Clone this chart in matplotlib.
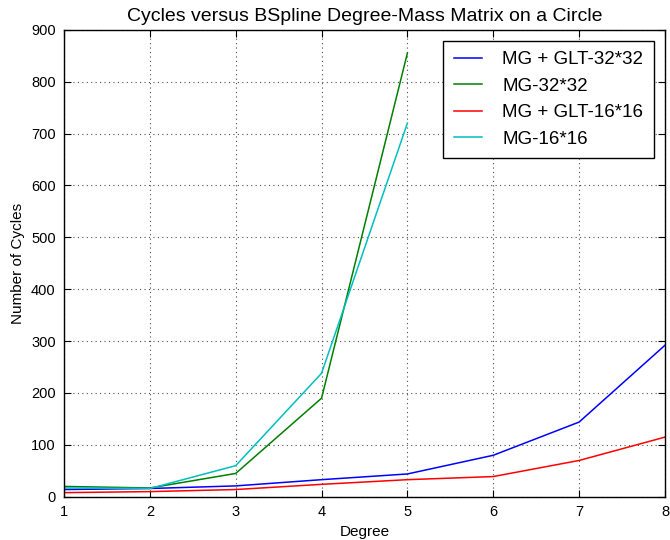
import numpy as np
import matplotlib.pyplot as plt

plt.rcParams['font.family'] = ['Liberation Sans', 'DejaVu Sans']

# Cycle counts per B-spline degree
degree = [1, 2, 3, 4, 5, 6, 7, 8]
degree_short = [1, 2, 3, 4, 5]
mg_glt_32 = [14, 16, 21, 33, 44, 80, 144, 292]
mg_32 = [20, 17, 45, 190, 855]
mg_glt_16 = [8, 10, 14, 24, 33, 39, 70, 115]
mg_16 = [17, 16, 60, 238, 720]

fig = plt.figure(figsize=(6.7, 5.4), dpi=100)
ax = fig.add_axes([0.0955, 0.08, 0.897, 0.865])

ax.plot(degree, mg_glt_32, color='b', lw=1.1, label='MG + GLT-32*32')
ax.plot(degree_short, mg_32, color='g', lw=1.1, label='MG-32*32')
ax.plot(degree, mg_glt_16, color='r', lw=1.1, label='MG + GLT-16*16')
ax.plot(degree_short, mg_16, color='c', lw=1.1, label='MG-16*16')

ax.set_xlim(1, 8)
ax.set_ylim(0, 900)
ax.set_xticks(np.arange(1, 9))
ax.set_yticks(np.arange(0, 901, 100))
ax.grid(True, color='0.3', linestyle=(0, (1, 3)), linewidth=0.8)
ax.tick_params(direction='in', top=True, right=True, labelsize=10.5, length=5, pad=6)
for s in ax.spines.values():
    s.set_linewidth(1.0)

ax.set_title('Cycles versus BSpline Degree-Mass Matrix on a Circle', fontsize=14)
ax.set_xlabel('Degree', fontsize=11)
ax.set_ylabel('Number of Cycles', fontsize=11)

leg = ax.legend(loc='upper right', fontsize=13.5, fancybox=False, framealpha=1,
                edgecolor='k', handlelength=1.5, handletextpad=1.1,
                labelspacing=0.5, borderpad=0.55, borderaxespad=0.6)
leg.get_frame().set_linewidth(1.0)

fig.savefig('out.png', dpi=100, facecolor='white')
